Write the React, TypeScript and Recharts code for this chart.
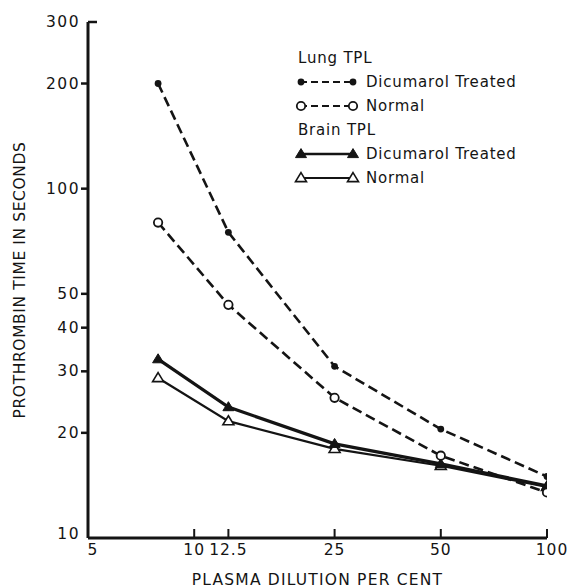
import { CartesianGrid, Customized, Line, LineChart, XAxis, YAxis } from "recharts";

// plasma dilution (%) and prothrombin times (s)
const dilution = [7.9, 12.5, 25, 50, 100];
const lungTreated = [200, 75, 31, 20.5, 15];
const lungNormal = [80, 46.5, 25.2, 17.2, 13.5];
const brainTreated = [32.5, 23.7, 18.6, 16.3, 14.1];
const brainNormal = [28.7, 21.6, 18, 16.1, 14];

const xTicks = [5, 10, 12.5, 25, 50, 100];
const yTicks = [10, 20, 30, 40, 50, 100, 200, 300];

const legendGroups = [
  { title: "Lung TPL", items: [{ key: "lungTreated", name: "Dicumarol Treated" }, { key: "lungNormal", name: "Normal" }] },
  { title: "Brain TPL", items: [{ key: "brainTreated", name: "Dicumarol Treated" }, { key: "brainNormal", name: "Normal" }] },
];

const INK = "#141414";
const FONT = "'DejaVu Sans', sans-serif";

const seriesStyle: Record<string, { marker: string; dash?: string; width: number }> = {
  lungTreated: { marker: "dot", dash: "10 5", width: 2.6 },
  lungNormal: { marker: "circle", dash: "10 5", width: 2.6 },
  brainTreated: { marker: "tri", width: 3.2 },
  brainNormal: { marker: "openTri", width: 2.2 },
};

const data = dilution.map((x, i) => ({
  x,
  lungTreated: lungTreated[i],
  lungNormal: lungNormal[i],
  brainTreated: brainTreated[i],
  brainNormal: brainNormal[i],
}));

function Marker({ kind, cx, cy }: { kind: string; cx: number; cy: number }) {
  if (kind === "dot") return <circle cx={cx} cy={cy} r={3.4} fill={INK} />;
  if (kind === "circle")
    return <circle cx={cx} cy={cy} r={4.2} fill="#fff" stroke={INK} strokeWidth={1.8} />;
  const h = 9;
  const w = 5.5;
  const pts = `${cx},${cy - h * 0.6} ${cx + w},${cy + h * 0.4} ${cx - w},${cy + h * 0.4}`;
  return (
    <polygon
      points={pts}
      fill={kind === "tri" ? INK : "#fff"}
      stroke={INK}
      strokeWidth={kind === "tri" ? 1 : 1.6}
    />
  );
}

function XTick({ x, y, payload }: any) {
  const v = payload.value;
  const dx = v === 5 || v === 100 ? 5 : 0;
  return (
    <g>
      {v !== 5 && <line x1={x} x2={x} y1={y} y2={y - 9} stroke={INK} strokeWidth={2} />}
      <text
        x={x + dx}
        y={y + 17}
        textAnchor="middle"
        fontFamily={FONT}
        fontSize={15.5}
        letterSpacing={1}
        fill={INK}
      >
        {v}
      </text>
    </g>
  );
}

function YTick({ x, y, payload }: any) {
  const v = payload.value;
  const inward = v === 300;
  return (
    <g>
      {v !== 10 && (
        <line x1={x} x2={inward ? x + 9 : x - 7} y1={y} y2={y} stroke={INK} strokeWidth={2.5} />
      )}
      <text
        x={x - 8}
        y={v === 10 ? y - 4 : y}
        textAnchor="end"
        dominantBaseline="central"
        fontFamily={FONT}
        fontSize={15.5}
        letterSpacing={1.5}
        fill={INK}
      >
        {v}
      </text>
    </g>
  );
}

function LegendBlock() {
  const left = 298;
  let row = 0;
  const rowY = () => 58 + 24 * row++;
  return (
    <g fontFamily={FONT} fontSize={15} fill={INK} letterSpacing={0.8}>
      {legendGroups.map((g) => {
        const ty = rowY();
        return (
          <g key={g.title}>
            <text x={left} y={ty} dominantBaseline="central">
              {g.title}
            </text>
            {g.items.map((it) => {
              const s = seriesStyle[it.key];
              const iy = rowY();
              return (
                <g key={it.key}>
                  <line
                    x1={left + 2}
                    x2={left + 56}
                    y1={iy}
                    y2={iy}
                    stroke={INK}
                    strokeWidth={s.width * 0.8}
                    strokeDasharray={s.dash ? "7 4" : undefined}
                  />
                  <Marker kind={s.marker} cx={left + 3} cy={iy} />
                  <Marker kind={s.marker} cx={left + 55} cy={iy} />
                  <text x={left + 68} y={iy} dominantBaseline="central">
                    {it.name}
                  </text>
                </g>
              );
            })}
          </g>
        );
      })}
    </g>
  );
}

const drawOrder = ["brainNormal", "brainTreated", "lungNormal", "lungTreated"];

export default function App() {
  return (
    <div style={{ position: "absolute", left: 0, top: 0, background: "#fff" }}>
      <LineChart width={568} height={588} data={data} margin={{ top: 22, right: 21, left: 0, bottom: 0 }}>
        <CartesianGrid stroke="none" />
        <XAxis
          dataKey="x"
          type="number"
          scale="log"
          domain={[5, 100]}
          ticks={xTicks}
          allowDataOverflow
          height={50}
          tickSize={0}
          tickMargin={0}
          tickLine={false}
          tick={<XTick />}
          axisLine={{ stroke: INK, strokeWidth: 3 }}
          label={{
            value: "PLASMA DILUTION PER CENT",
            position: "insideBottom",
            offset: 3,
            fill: INK,
            style: { fontFamily: FONT, fontSize: 15.5, letterSpacing: 1.2 },
          }}
        />
        <YAxis
          type="number"
          scale="log"
          domain={[10, 300]}
          ticks={yTicks}
          allowDataOverflow
          width={88}
          tickSize={0}
          tickMargin={0}
          tickLine={false}
          tick={<YTick />}
          axisLine={{ stroke: INK, strokeWidth: 3 }}
          label={{
            value: "PROTHROMBIN TIME IN SECONDS",
            angle: -90,
            position: "insideLeft",
            offset: 19,
            fill: INK,
            style: { fontFamily: FONT, fontSize: 15.5, letterSpacing: 0.6, textAnchor: "middle" },
          }}
        />
        {drawOrder.map((k) => {
          const s = seriesStyle[k];
          return (
            <Line
              key={k}
              dataKey={k}
              type="linear"
              stroke={INK}
              strokeWidth={s.width}
              strokeDasharray={s.dash}
              isAnimationActive={false}
              dot={(p: any) => <Marker key={`${k}-${p.index}`} kind={s.marker} cx={p.cx} cy={p.cy} />}
              activeDot={false}
            />
          );
        })}
        <Customized component={LegendBlock} />
      </LineChart>
    </div>
  );
}
